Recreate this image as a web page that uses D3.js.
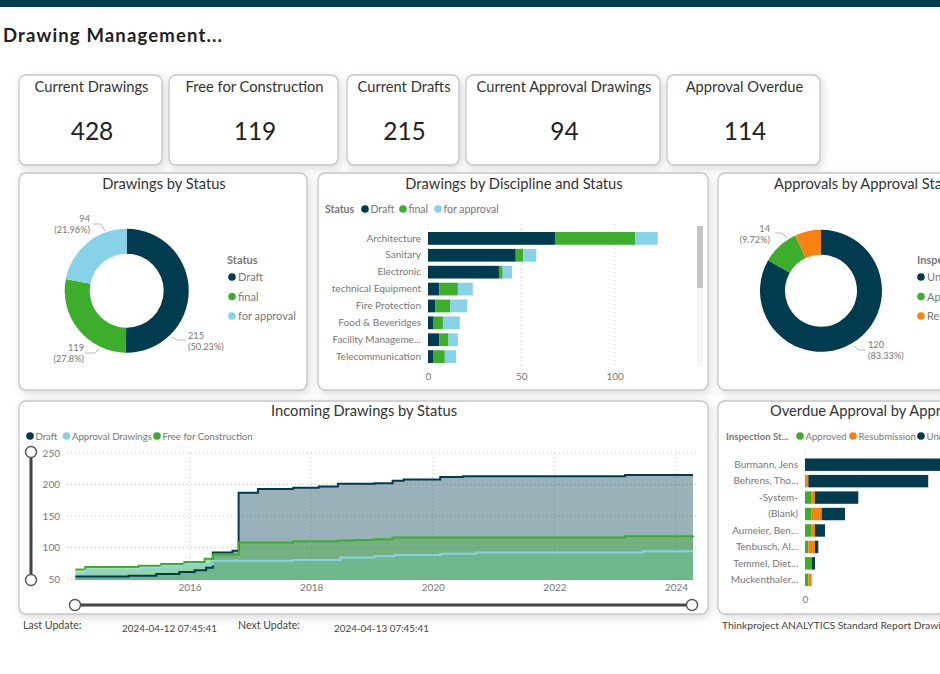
<!DOCTYPE html>
<html><head><meta charset="utf-8">
<script src="https://cdn.jsdelivr.net/npm/d3@7/dist/d3.min.js"></script>
<style>
html,body{margin:0;padding:0;background:#fff;overflow:hidden}
svg{display:block;font-family:Lato,"Noto Sans",sans-serif}
.card{fill:#fff;stroke:#c6c6c6;stroke-width:1.3;filter:drop-shadow(2px 3px 4px rgba(0,0,0,.14))}
.title{fill:#333;font-size:14.7px}
.lab{fill:#777;font-size:10.5px}
.small{fill:#777;font-size:9.6px}
.call{fill:#777;font-size:9.2px}
.axis{font-family:Lato,"Noto Sans",sans-serif}
.axis text{fill:#777;font-size:10px}
.axis path,.axis line{display:none}
.grid{stroke:#c9c9c9;stroke-width:1;stroke-dasharray:1 3;fill:none}
</style></head><body>
<svg id="c" width="940" height="674"></svg>
<script>
const DARK="#003b4f",GREEN="#3cae2c",BLUE="#88d2e9",ORANGE="#f7820f";
const kpiTitles=["Current Drawings","Free for Construction","Current Drafts","Current Approval Drawings","Approval Overdue"];
const kpiValues=[428,119,215,94,114];
const statusNames=["Draft","final","for approval"];
const statusValues=[215,119,94];
const statusPercents=["50.23%","27.8%","21.96%"];
const approvalNames=["Under Review","Approved","Resubmission"];
const approvalValues=[120,14,10];
const disciplines=["Architecture","Sanitary","Electronic","technical Equipment","Fire Protection","Food & Beveridges","Facility Manageme...","Telecommunication"];
const discDraft=[68,47,38,6,4,3,6,3];
const discFinal=[43,4,2,10,8,5,5,6];
const discApproval=[12,7,5,8,9,9,5,6];
const approvers=["Burmann, Jens","Behrens, Tho...","-System-","(Blank)","Aumeier, Ben...","Tenbusch, Al...","Temmel, Diet...","Muckenthaler..."];
const apprApproved=[0,0,2,2,2,1,2,1];
const apprResub=[0,1,1,3,1,2,0,1];
const apprUnder=[48,36,13,7,3,1,1,0];
const lineDraft=[["2014-02-15",54],["2015-01-01",55],["2015-06-15",58],["2015-11-01",61],["2016-02-01",64],["2016-04-10",68],["2016-05-20",92],["2016-09-15",95],["2016-10-22",187],["2017-02-15",193],["2017-09-15",195],["2018-02-15",197],["2018-06-10",201],["2019-01-15",202],["2019-05-05",206],["2019-07-10",208],["2020-02-15",212],["2020-07-01",213],["2023-03-01",215],["2024-04-12",215]];
const lineFree=[["2014-02-15",65],["2014-04-15",69],["2015-03-01",71],["2015-07-15",74],["2015-12-01",77],["2016-04-01",82],["2016-05-20",89],["2016-10-22",108],["2017-09-15",110],["2018-06-10",111],["2018-09-15",112],["2019-01-15",113],["2019-05-05",116],["2023-03-01",118],["2024-04-12",119]];
const lineApproval=[["2014-02-15",58],["2014-04-15",64],["2015-03-15",66],["2015-07-15",70],["2015-12-01",73],["2016-05-20",79],["2017-09-15",80],["2018-06-25",84],["2019-01-15",86],["2019-05-15",88],["2020-02-15",90],["2020-09-15",92],["2023-06-15",94],["2024-04-12",94]];
const yTicks=[50,100,150,200,250];

const svg=d3.select("#c");
svg.append("rect").attr("width",940).attr("height",7).attr("fill",DARK);
svg.append("text").attr("x",3).attr("y",41.5).attr("font-size",18.5).attr("font-weight",700).attr("fill","#222").attr("letter-spacing",1.15).text("Drawing Management...");

function card(x,y,w,h){svg.append("rect").attr("class","card").attr("x",x).attr("y",y).attr("width",w).attr("height",h).attr("rx",7);}
function text(x,y,t,cls,anchor){return svg.append("text").attr("class",cls||"lab").attr("x",x).attr("y",y).attr("text-anchor",anchor||"start").text(t);}
function dot(x,y,c){svg.append("circle").attr("cx",x).attr("cy",y).attr("r",3.8).attr("fill",c);}

// KPI cards
const kpiBox=[[19,143],[169,169],[347,112],[466,194],[667,153]];
kpiTitles.forEach((t,i)=>{const [x,w]=kpiBox[i];card(x,75,w,90);
  text(x+w/2+1,92,t,"title","middle");
  svg.append("text").attr("x",x+w/2+1.5).attr("y",140).attr("text-anchor","middle").attr("font-size",24.5).attr("fill","#222").text(kpiValues[i]);});

// panels
card(19,173,288,217);card(318,173,390,217);card(718,173,260,217);
card(19,401,689,213);card(718,401,260,213);
text(164,189,"Drawings by Status","title","middle");
text(514,189,"Drawings by Discipline and Status","title","middle");
text(774,189,"Approvals by Approval Status","title");
text(364,416,"Incoming Drawings by Status","title","middle");
text(770,416,"Overdue Approval by Approver","title");

// donuts
function donut(cx,cy,ro,ri,vals,cols){
  const arcs=d3.pie().sort(null)(vals);
  const arc=d3.arc().innerRadius(ri).outerRadius(ro);
  svg.append("g").attr("transform",`translate(${cx},${cy})`).selectAll("path").data(arcs).join("path").attr("d",arc).attr("fill",(d,i)=>cols[i]);
}
donut(126.7,290.7,62,37,statusValues,[DARK,GREEN,BLUE]);
donut(821,290.7,61,36,approvalValues,[DARK,GREEN,ORANGE]);
function callout(pts,lines,x,y,anchor){
  svg.append("path").attr("d",d3.line()(pts)).attr("fill","none").attr("stroke","#bbb");
  lines.forEach((l,i)=>text(x,y+i*10.5,l,"call",anchor));
}
callout([[172,337],[177,340],[186,340]],[statusValues[0],"("+statusPercents[0]+")"],188,339);
callout([[99,349],[95,353],[85,353]],[statusValues[1],"("+statusPercents[1]+")"],84,351,"end");
callout([[105,231],[101,224],[93,224]],[statusValues[2],"("+statusPercents[2]+")"],90,222,"end");
callout([[854,346],[859,350],[866,350]],[approvalValues[0],"(83.33%)"],868,348);
callout([[787,238],[782,233],[775,233]],[approvalValues[1],"(9.72%)"],770,232,"end");

// donut legends
text(227,264,"Status","lab").attr("font-weight",700).style("font-size","11px");
statusNames.forEach((n,i)=>{const y=277+i*19.5;dot(232,y,[DARK,GREEN,BLUE][i]);text(238,y+4,n,"lab").style("font-size","11px");});
text(917,264,"Inspection Status","lab").attr("font-weight",700).style("font-size","11px");
approvalNames.forEach((n,i)=>{const y=277+i*19.5;dot(921,y,[DARK,GREEN,ORANGE][i]);text(927,y+4,n,"lab").style("font-size","11px");});

// legend row
function legendRow(y,items,cls){items.forEach(([x,n,c])=>{if(c){dot(x,y,c);text(x+5.5,y+3.5,n,cls);}else text(x,y+3.5,n,cls).attr("font-weight",700);});}
legendRow(209,[[325,"Status"],[365,statusNames[0],DARK],[403,statusNames[1],GREEN],[438,statusNames[2],BLUE]],"lab");
legendRow(436,[[30,"Draft",DARK],[66.5,"Approval Drawings",BLUE],[157,"Free for Construction",GREEN]],"small");
legendRow(436,[[726,"Inspection St..."],[800,"Approved",GREEN],[853,"Resubmission",ORANGE],[921,"Under Review",DARK]],"small");

// stacked bars
function bars(names,series,cols,y0,y1,xs,xTicks,axisY,labelX){
  const y=d3.scaleBand().domain(names).range([y0,y1]).paddingInner(.245).paddingOuter(.12);
  xTicks.forEach(t=>svg.append("line").attr("class","grid").attr("x1",xs(t)).attr("x2",xs(t)).attr("y1",y0-6).attr("y2",y1+2));
  const stack=d3.stack().keys(series.map((s,i)=>i)).value((d,k)=>series[k][names.indexOf(d)])(names);
  stack.forEach((lay,k)=>svg.append("g").selectAll("rect").data(lay).join("rect")
    .attr("x",d=>xs(d[0])).attr("width",d=>xs(d[1])-xs(d[0])).attr("y",d=>y(d.data)).attr("height",y.bandwidth()).attr("fill",cols[k]));
  svg.append("g").attr("class","axis").attr("transform",`translate(${labelX},0)`).call(d3.axisLeft(y).tickSize(0).tickPadding(0));
  svg.append("g").attr("class","axis").attr("transform",`translate(0,${axisY})`).call(d3.axisBottom(xs).tickValues(xTicks).tickSize(0).tickPadding(0));
}
bars(disciplines,[discDraft,discFinal,discApproval],[DARK,GREEN,BLUE],230,365,d3.scaleLinear().domain([0,100]).range([428,614.7]),[0,50,100],373,421);
bars(approvers,[apprApproved,apprResub,apprUnder],[GREEN,ORANGE,DARK],456.5,588,d3.scaleLinear().domain([0,10]).range([805,838.3]),[0],596,798);
svg.append("rect").attr("x",697).attr("y",226).attr("width",6).attr("height",141).attr("fill","#f5f5f5");
svg.append("rect").attr("x",697).attr("y",226).attr("width",6).attr("height",62).attr("fill","#c4c4c4");

// incoming line chart
const parse=d3.utcParse("%Y-%m-%d");
const x=d3.scaleUtc().domain([parse("2016-01-01"),parse("2024-01-01")]).range([189.5,676]);
const y=d3.scaleLinear().domain([50,250]).range([579,453]);
const baseY=580;
yTicks.forEach(t=>svg.append("line").attr("class","grid").attr("x1",67).attr("x2",698).attr("y1",y(t)).attr("y2",y(t)));
const xt=d3.utcYear.every(2).range(parse("2016-01-01"),parse("2024-06-01"));
xt.forEach(t=>svg.append("line").attr("class","grid").attr("x1",x(t)).attr("x2",x(t)).attr("y1",453).attr("y2",baseY));
const area=d3.area().curve(d3.curveStepAfter).x(d=>x(parse(d[0]))).y0(baseY).y1(d=>y(d[1]));
const line=d3.line().curve(d3.curveStepAfter).x(d=>x(parse(d[0]))).y(d=>y(d[1]));
[[lineDraft,DARK],[lineApproval,BLUE],[lineFree,GREEN]].forEach(([d,c])=>{
  svg.append("path").attr("d",area(d)).attr("fill",c).attr("fill-opacity",.4);});
[[lineDraft,DARK],[lineFree,GREEN],[lineApproval,BLUE]].forEach(([d,c])=>{
  svg.append("path").attr("d",line(d)).attr("fill","none").attr("stroke",c).attr("stroke-width",2);});
svg.append("g").attr("class","axis").attr("transform","translate(60,0)").call(d3.axisLeft(y).tickValues(yTicks).tickSize(0).tickPadding(0));
svg.append("g").attr("class","axis").attr("transform",`translate(0,${baseY+4})`).call(d3.axisBottom(x).tickValues(xt).tickFormat(d3.utcFormat("%Y")).tickSize(0).tickPadding(0));

// sliders
function slider(x1,y1,x2,y2){
  svg.append("line").attr("x1",x1).attr("y1",y1).attr("x2",x2).attr("y2",y2).attr("stroke","#444").attr("stroke-width",3);
  [[x1,y1],[x2,y2]].forEach(p=>svg.append("circle").attr("cx",p[0]).attr("cy",p[1]).attr("r",5.5).attr("fill","#fff").attr("stroke","#555").attr("stroke-width",1.4));
}
slider(31,452,31,580);slider(75,605,692,605);

// footer
[[23,629,"Last Update:",10.6],[122,632,"2024-04-12 07:45:41",9.9],[238,629,"Next Update:",10.6],[334,632,"2024-04-13 07:45:41",9.9],[722,629,"Thinkproject ANALYTICS Standard Report Drawing Management",10.3]]
 .forEach(([a,b,t,s])=>text(a,b,t).style("fill","#444").style("font-size",s+"px"));
</script></body></html>
